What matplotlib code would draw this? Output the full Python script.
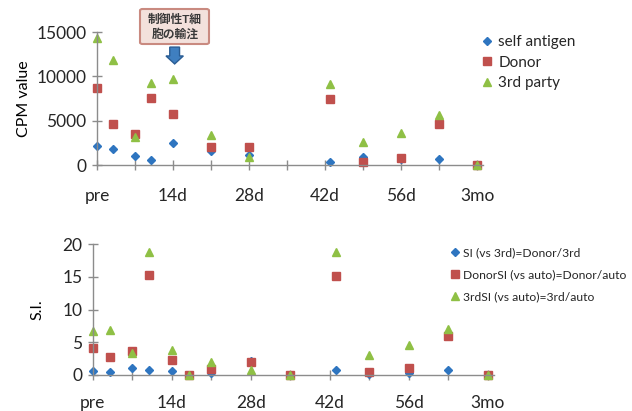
import matplotlib
matplotlib.use("Agg")
from matplotlib import pyplot as plt
from matplotlib import patches

plt.rcParams['font.family'] = ['Lato', 'Noto Sans CJK JP', 'DejaVu Sans']
plt.rcParams['text.color'] = '#262626'

# days after start ("pre" = 0, "3mo" = 70)
days_cpm = [0, 3, 7, 10, 14, 21, 28, 43, 49, 56, 63, 70]
self_antigen = [2200, 1770, 1020, 560, 2450, 1620, 1100, 370, 870, 700, 680, 0]
donor = [8700, 4670, 3470, 7600, 5730, 2030, 2030, 7460, 370, 790, 4670, 0]
third_party = [14300, 11830, 3200, 9300, 9700, 3390, 870, 9190, 2630, 3650, 5650, 0]

days_si = [0, 3, 7, 10, 14, 17, 21, 28, 35, 43, 49, 56, 63, 70]
si_vs_3rd = [0.66, 0.4, 1.07, 0.8, 0.6, 0, 0.36, 2.2, 0, 0.8, 0.15, 0.25, 0.8, 0]
donor_si = [4.2, 2.75, 3.7, 15.25, 2.35, 0, 0.97, 1.94, 0, 15.2, 0.5, 1.1, 5.9, 0]
third_si = [6.8, 6.9, 3.4, 18.8, 3.9, 0, 2.0, 0.7, 0, 18.8, 3.06, 4.6, 7.1, 0]

tick_pos = list(range(0, 71, 7))
tick_labels = ['pre', '', '14d', '', '28d', '', '42d', '', '56d', '', '3mo']

blue = '#2e75c0'
red = '#c0504d'
green = '#8fc045'
axis_gray = '#8c8c8c'

fig = plt.figure(figsize=(6.32, 4.11), dpi=100)
ax1 = fig.add_axes([0.1535, 0.5985, 0.610, 0.3236])
ax2 = fig.add_axes([0.147, 0.0876, 0.634, 0.318])


def style_axis(ax, yticks, xpad):
    for side in ['top', 'right']:
        ax.spines[side].set_visible(False)
    for side in ['left', 'bottom']:
        ax.spines[side].set_color(axis_gray)
        ax.spines[side].set_linewidth(1.0)
    ax.set_xlim(0, 71)
    ax.set_xticks(tick_pos)
    ax.set_xticklabels(tick_labels)
    ax.set_yticks(yticks)
    ax.set_ylim(yticks[0], yticks[-1])
    ax.tick_params(axis='both', direction='inout', length=7, width=1.0,
                   color=axis_gray, labelsize=12.5, labelcolor='#262626')
    ax.tick_params(axis='x', pad=xpad)
    ax.tick_params(axis='y', pad=4)


# CPM values
ax1.plot(days_cpm, self_antigen, 'D', color=blue, ms=4.5, label='self antigen', clip_on=False)
ax1.plot(days_cpm, donor, 's', color=red, ms=6, label='Donor', clip_on=False)
ax1.plot(days_cpm, third_party, '^', color=green, ms=6, label='3rd party', clip_on=False)
style_axis(ax1, [0, 5000, 10000, 15000], 13)
ax1.set_ylabel('CPM value', fontsize=11.5, labelpad=4)
ax1.legend(loc='upper left', bbox_to_anchor=(0.764, 0.914), bbox_transform=fig.transFigure,
           frameon=False, fontsize=11, handlelength=0.6, handletextpad=0.4,
           labelspacing=0.42, borderpad=0, borderaxespad=0)

# stimulation index
ax2.plot(days_si, si_vs_3rd, 'D', color=blue, ms=4.5, label='SI (vs 3rd)=Donor/3rd', clip_on=False)
ax2.plot(days_si, donor_si, 's', color=red, ms=6, label='DonorSI (vs auto)=Donor/auto', clip_on=False)
ax2.plot(days_si, third_si, '^', color=green, ms=6, label='3rdSI (vs auto)=3rd/auto', clip_on=False)
style_axis(ax2, [0, 5, 10, 15, 20], 11)
ax2.set_ylabel('S.I.', fontsize=11.5, labelpad=13)
ax2.legend(loc='upper left', bbox_to_anchor=(0.714, 0.398), bbox_transform=fig.transFigure,
           frameon=False, fontsize=8.7, handlelength=0.6, handletextpad=0.4,
           labelspacing=0.9, borderpad=0, borderaxespad=0)

# infusion marker: label box and arrow at day 14
box = patches.FancyBboxPatch((140 / 632, 1 - 44 / 411), 69 / 632, 35 / 411,
                             boxstyle='round,pad=0,rounding_size=0.004',
                             transform=fig.transFigure, facecolor='#f3e1dc',
                             edgecolor='#c98a80', linewidth=1.5)
fig.patches.append(box)
fig.text(175 / 632, 1 - 26.5 / 411, '制御性T細\n胞の輸注', ha='center', va='center',
         fontsize=8.5, fontweight='bold', color='#3a3a3a', linespacing=1.3)
arrow = patches.FancyArrow(14.3, 13300, 0, -1000, width=1.8, head_width=3.2,
                           head_length=900, length_includes_head=False,
                           facecolor='#3f7fc0', edgecolor='#2a5d94', linewidth=1,
                           clip_on=False)
ax1.add_patch(arrow)

fig.savefig('out.png', dpi=100)
